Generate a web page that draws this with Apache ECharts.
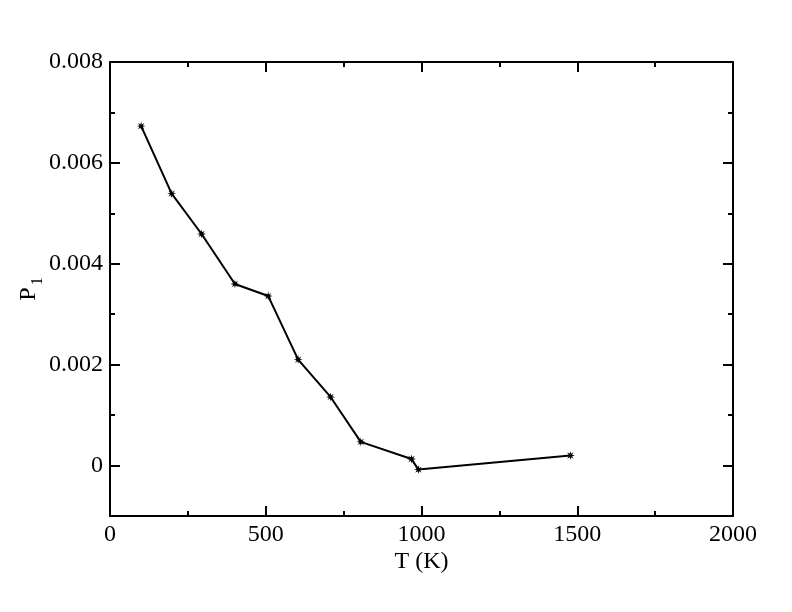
<!DOCTYPE html>
<html>
<head>
<meta charset="utf-8">
<script src="https://cdn.jsdelivr.net/npm/echarts@6/dist/echarts.min.js"></script>
<style>html,body{margin:0;padding:0;background:#fff;}#c{width:792px;height:612px;}</style>
</head>
<body>
<div id="c"></div>
<script>
var temperatures = [100, 198, 294, 401, 508, 604, 708, 805, 968, 990, 1478];
var p1Values = [0.00673, 0.00539, 0.00459, 0.00360, 0.00336, 0.00210, 0.00136, 0.00047, 0.00013, -0.00008, 0.00020];
var yMajorTicks = [0, 0.002, 0.004, 0.006, 0.008];
var yMinorTicks = [0.001, 0.003, 0.005, 0.007];
var xLabel = 'T (K)';

var FONT = '"Liberation Serif", "Times New Roman", serif';
var starPath = 'path://M4,0 L1.478,0.612 L2.828,2.828 L0.612,1.478 L0,4 L-0.612,1.478 L-2.828,2.828 L-1.478,0.612 L-4,0 L-1.478,-0.612 L-2.828,-2.828 L-0.612,-1.478 L0,-4 L0.612,-1.478 L2.828,-2.828 L1.478,-0.612 Z';

var data = temperatures.map(function (t, i) { return [t, p1Values[i]]; });

function xAx(pos, showLabel) {
  return {
    type: 'value', position: pos, min: 0, max: 2000, interval: 500,
    axisLine: { show: true, onZero: false, lineStyle: { color: '#000', width: 2 } },
    axisTick: { show: true, inside: true, length: 10, lineStyle: { color: '#000', width: 2 } },
    minorTick: { show: true, splitNumber: 2, length: 5, lineStyle: { color: '#000', width: 2 } },
    axisLabel: { show: showLabel, color: '#000', fontFamily: FONT, fontSize: 24, margin: 7,
      formatter: function (v) { return String(Math.round(v)); } },
    splitLine: { show: false },
    name: showLabel ? xLabel : '', nameLocation: 'middle', nameGap: 34, nameMoveOverlap: false,
    nameTextStyle: { color: '#000', fontFamily: FONT, fontSize: 24 }
  };
}
function yAx(pos, vals, len, showLabel, showLine, withName) {
  var ax = {
    type: 'value', position: pos, min: -0.001, max: 0.008, interval: 0.001,
    axisLine: { show: showLine, onZero: false, lineStyle: { color: '#000', width: 2 } },
    axisTick: { show: true, inside: true, length: len, customValues: vals, lineStyle: { color: '#000', width: 2 } },
    axisLabel: { show: showLabel, customValues: yMajorTicks, color: '#000', fontFamily: FONT, fontSize: 24, margin: 7,
      formatter: function (v) { return Math.abs(v) < 1e-9 ? '0' : v.toFixed(3); } },
    splitLine: { show: false }
  };
  if (withName) {
    ax.name = '{p|P}{s|1}';
    ax.nameLocation = 'middle';
    ax.nameGap = 64;
    ax.nameMoveOverlap = false;
    ax.nameTextStyle = {
      rich: {
        p: { color: '#000', fontFamily: FONT, fontSize: 24 },
        s: { color: '#000', fontFamily: FONT, fontSize: 16, padding: [18, 0, 0, 2] }
      }
    };
  }
  return ax;
}

var chart = echarts.init(document.getElementById('c'));
chart.setOption({
  backgroundColor: '#fff',
  animation: false,
  grid: { left: 110, right: 59, top: 62, bottom: 96, containLabel: false },
  xAxis: [xAx('bottom', true), xAx('top', false)],
  yAxis: [
    yAx('left', yMajorTicks, 10, true, true, true),
    yAx('left', yMinorTicks, 5, false, false, false),
    yAx('right', yMajorTicks, 10, false, true, false),
    yAx('right', yMinorTicks, 5, false, false, false)
  ],
  series: [{
    type: 'line', xAxisIndex: 0, yAxisIndex: 0, data: data,
    symbol: starPath, symbolSize: 9, showSymbol: true,
    lineStyle: { color: '#000', width: 2 },
    itemStyle: { color: '#000' }
  }]
});
</script>
</body>
</html>
